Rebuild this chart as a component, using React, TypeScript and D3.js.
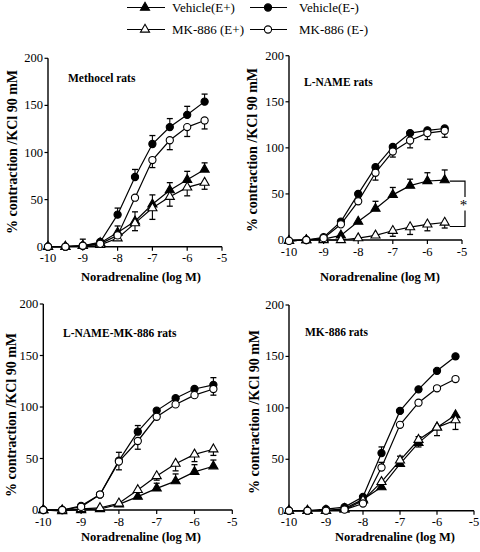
import React from "react";
import * as d3 from "d3";

const doses = [-10, -9.5, -9, -8.5, -8, -7.5, -7, -6.5, -6, -5.5];
const xTicks = [-10, -9, -8, -7, -6, -5];
const yTicks = [0, 50, 100, 150, 200];
const seriesNames = ["Vehicle(E+)", "Vehicle(E-)", "MK-886 (E+)", "MK-886 (E-)"];
const panelTitles = ["Methocel rats", "L-NAME rats", "L-NAME-MK-886 rats", "MK-886 rats"];
const yTitle = "% contraction /KCl 90 mM";
const xTitle = "Noradrenaline (log M)";

// Panel 1: Methocel
const p1VehEp = [0, 0, 1, 4, 15, 27, 45, 60, 71, 82];
const p1VehEm = [0, 0, 1, 5, 34, 74, 109, 127, 140, 154];
const p1MkEp = [0, 0, 1, 2, 9, 25, 41, 53, 63, 68];
const p1MkEm = [0, 0, 1, 3, 12, 52, 92, 113, 127, 134];
const p1ErrVehEp = [0, 0, 0, 0, 7, 10, 10, 8, 9, 7];
const p1ErrVehEm = [0, 0, 7, 0, 7, 8, 9, 9, 9, 8];
const p1ErrMkEp = [0, 0, 0, 0, 0, -8, -12, -10, -9, -7];
const p1ErrMkEm = [0, 0, 0, 0, 0, 0, -8, -10, -10, -9];

// Panel 2: L-NAME
const p2VehEp = [-1, 0, 1, 5, 20, 34, 49, 59, 64, 65];
const p2VehEm = [-1, 0, 3, 20, 50, 79, 101, 116, 119, 121];
const p2MkEp = [-1, 0, 0, 0, 2, 5, 10, 14, 17, 19];
const p2MkEm = [-1, 0, 2, 17, 42, 73, 96, 108, 116, 118.5];
const p2ErrVehEp = [0, 0, 0, 0, 0, 8, 8, 7, 9, 11];
const p2ErrVehEm = [0, 0, 0, 0, 0, 0, 0, 0, 0, 0];
const p2ErrMkEp = [0, 0, 0, 0, 0, 0, -6, -8, -7, -6];
const p2ErrMkEm = [0, 0, 0, 0, 0, -8, -6, -8, -7, -7];

// Panel 3: L-NAME-MK-886
const p3VehEp = [0, 0, 0, 1, 5.5, 13, 21, 28, 37, 42.5];
const p3VehEm = [0, 0, 4, 15, 48, 76, 96.5, 108.5, 117.5, 121.5];
const p3MkEp = [0, -1, 1, 2, 6.5, 19.5, 33, 45, 54, 59];
const p3MkEm = [0, 0, 3, 15, 47, 67, 90.5, 102.5, 111.5, 117.5];
const p3ErrVehEp = [0, 0, 0, 0, 0, 0, 5, 7, 7, 6];
const p3ErrVehEm = [0, 0, 0, 0, 8, 6, 0, 0, 0, 7];
const p3ErrMkEp = [0, 0, 0, 0, 0, 0, -4, -7, -7, -6];
const p3ErrMkEm = [0, 0, 0, 0, -8, -8, 0, 0, 0, -6];

// Panel 4: MK-886
const p4VehEp = [0, 0, 0, 2, 11, 23, 45.5, 66, 81, 93];
const p4VehEm = [0, 0, 1.5, 3.5, 13.5, 56, 97, 118, 136, 150];
const p4MkEp = [0, 0, 0, 1, 10, 28, 49, 69, 81, 88];
const p4MkEm = [0, 0, 0, 1, 7, 42, 83.5, 105, 119, 128];
const p4ErrVehEp = [0, 0, 0, 0, 0, 0, 0, -4, -8, 0];
const p4ErrVehEm = [0, 0, 0, 0, 0, 6, 0, 0, 0, 0];
const p4ErrMkEp = [0, 0, 0, 0, 0, 0, 4, 3, 0, -9];
const p4ErrMkEm = [0, 0, 0, 0, 0, 5, 0, 0, 0, 0];

const panelData = [
  { vals: [p1VehEp, p1VehEm, p1MkEp, p1MkEm], errs: [p1ErrVehEp, p1ErrVehEm, p1ErrMkEp, p1ErrMkEm] },
  { vals: [p2VehEp, p2VehEm, p2MkEp, p2MkEm], errs: [p2ErrVehEp, p2ErrVehEm, p2ErrMkEp, p2ErrMkEm] },
  { vals: [p3VehEp, p3VehEm, p3MkEp, p3MkEm], errs: [p3ErrVehEp, p3ErrVehEm, p3ErrMkEp, p3ErrMkEm] },
  { vals: [p4VehEp, p4VehEm, p4MkEp, p4MkEm], errs: [p4ErrVehEp, p4ErrVehEm, p4ErrMkEp, p4ErrMkEm] },
];

// layout (pixel frames of each panel)
const layouts = [
  { x0: 48, x1: 222, y0: 246.7, y1: 58.3, ylx: 16.5, yly: 152, xtx: 141, xty: 281, tx: 68, ty: 82 },
  { x0: 289, x1: 462, y0: 240, y1: 55.7, ylx: 256.5, yly: 150, xtx: 380, xty: 281, tx: 304, ty: 85.5 },
  { x0: 43.3, x1: 232.3, y0: 510, y1: 304, ylx: 15.5, yly: 415, xtx: 141, xty: 541, tx: 63, ty: 337 },
  { x0: 289, x1: 474, y0: 510.7, y1: 305, ylx: 259, yly: 412, xtx: 395, xty: 541, tx: 305, ty: 336 },
];

const markerDefs = [
  { filled: true, tri: true },
  { filled: true, tri: false },
  { filled: false, tri: true },
  { filled: false, tri: false },
];

const FONT = "'Liberation Serif', 'Times New Roman', Times, serif";
const triPath = d3.symbol().type(d3.symbolTriangle).size(36)() as string;

function Marker({ x, y, def }: { x: number; y: number; def: { filled: boolean; tri: boolean } }) {
  const fill = def.filled ? "#000" : "#fff";
  if (def.tri) {
    return <path d={triPath} transform={`translate(${x},${y})`} fill={fill} stroke="#000" strokeWidth={1.1} />;
  }
  return <circle cx={x} cy={y} r={3.6} fill={fill} stroke="#000" strokeWidth={1.1} />;
}

function Panel({ idx }: { idx: number }) {
  const L = layouts[idx];
  const D = panelData[idx];
  const x = d3.scaleLinear().domain([-10, -5]).range([L.x0, L.x1]);
  const y = d3.scaleLinear().domain([0, 200]).range([L.y0, L.y1]);
  const line = d3
    .line<[number, number]>()
    .x((d) => x(d[0]))
    .y((d) => y(d[1]));
  return (
    <g>
      <line x1={L.x0} x2={L.x0} y1={y(0)} y2={y(200)} stroke="#000" strokeWidth={1.4} />
      <line x1={x(-10)} x2={x(-5)} y1={L.y0} y2={L.y0} stroke="#000" strokeWidth={1.4} />
      {yTicks.map((t) => (
        <g key={"y" + t}>
          <line x1={L.x0 - 3.5} x2={L.x0} y1={y(t)} y2={y(t)} stroke="#000" strokeWidth={1.2} />
          <text x={L.x0 - 5} y={y(t) + 4} textAnchor="end" fontSize={12.5} fontFamily={FONT}>
            {t}
          </text>
        </g>
      ))}
      {xTicks.map((t) => (
        <g key={"x" + t}>
          <line x1={x(t)} x2={x(t)} y1={L.y0} y2={L.y0 + 4} stroke="#000" strokeWidth={1.2} />
          <text x={x(t)} y={L.y0 + 15.5} textAnchor="middle" fontSize={12.5} fontFamily={FONT}>
            {t}
          </text>
        </g>
      ))}
      <text
        transform={`translate(${L.ylx},${L.yly}) rotate(-90)`}
        textAnchor="middle"
        fontSize={14}
        fontWeight="bold"
        fontFamily={FONT}
      >
        {yTitle}
      </text>
      <text x={L.xtx} y={L.xty} textAnchor="middle" fontSize={12.5} fontWeight="bold" fontFamily={FONT}>
        {xTitle}
      </text>
      <text x={L.tx} y={L.ty} fontSize={11.5} fontWeight="bold" fontFamily={FONT}>
        {panelTitles[idx]}
      </text>
      {D.vals.map((vals, si) => (
        <path
          key={"l" + si}
          d={line(doses.map((d, i) => [d, vals[i]] as [number, number])) as string}
          fill="none"
          stroke="#000"
          strokeWidth={1.2}
        />
      ))}
      {D.errs.map((errs, si) =>
        errs.map((e, i) => {
          if (!e) return null;
          const cx = x(doses[i]);
          const ya = y(D.vals[si][i]);
          const yb = y(D.vals[si][i] + e);
          return (
            <g key={"e" + si + "-" + i}>
              <line x1={cx} x2={cx} y1={ya} y2={yb} stroke="#000" strokeWidth={1.1} />
              <line x1={cx - 3} x2={cx + 3} y1={yb} y2={yb} stroke="#000" strokeWidth={1.3} />
            </g>
          );
        })
      )}
      {D.vals.map((vals, si) =>
        vals.map((v, i) => <Marker key={"m" + si + "-" + i} x={x(doses[i])} y={y(v)} def={markerDefs[si]} />)
      )}
      {idx === 1 &&
        (() => {
          const last = doses.length - 1;
          const bx = x(-5) + 3;
          const ya = y(D.vals[0][last]) + 1;
          const yb = y(D.vals[2][last]) + 4;
          const xs = x(doses[last]) + 5;
          return (
            <g>
              <path
                d={`M${xs},${ya}H${bx}V${ya + 16} M${bx},${yb - 16}V${yb}H${xs}`}
                fill="none"
                stroke="#000"
                strokeWidth={1.2}
              />
              <text x={bx - 1.5} y={(ya + yb) / 2 + 6.5} textAnchor="middle" fontSize={15} fontFamily={FONT}>
                *
              </text>
            </g>
          );
        })()}
    </g>
  );
}

function Legend() {
  const cols = [
    { lx0: 127, lx1: 165, mx: 145, tx: 172 },
    { lx0: 250, lx1: 287, mx: 268, tx: 299 },
  ];
  const rows = [7.5, 29.5];
  return (
    <g>
      {seriesNames.map((name, si) => {
        const c = cols[si % 2];
        const r = rows[Math.floor(si / 2)];
        return (
          <g key={name}>
            <line x1={c.lx0} x2={c.lx1} y1={r} y2={r} stroke="#000" strokeWidth={1.2} />
            <Marker x={c.mx} y={r} def={markerDefs[si]} />
            <text x={c.tx} y={r + 4.5} fontSize={13} fontFamily={FONT}>
              {name}
            </text>
          </g>
        );
      })}
    </g>
  );
}

export default function App() {
  return (
    <svg width={480} height={552} style={{ position: "absolute", left: 0, top: 0, background: "#fff" }}>
      <rect width={480} height={552} fill="#fff" />
      <Legend />
      {[0, 1, 2, 3].map((i) => (
        <Panel key={i} idx={i} />
      ))}
    </svg>
  );
}
